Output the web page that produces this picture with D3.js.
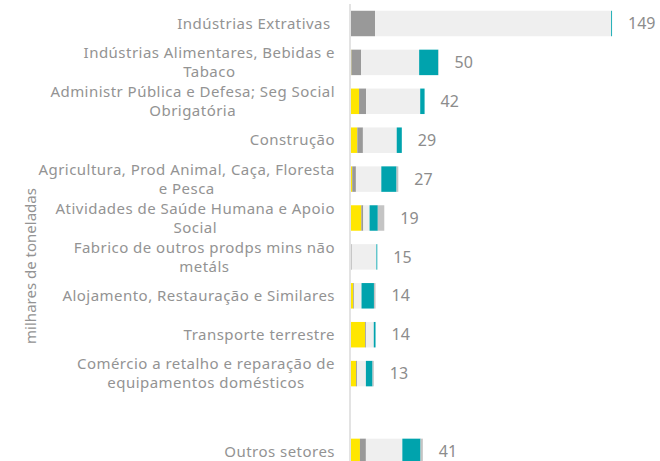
<!DOCTYPE html>
<html><head><meta charset="utf-8">
<script src="https://cdn.jsdelivr.net/npm/d3@7"></script>
<style>
html,body{margin:0;padding:0;background:#fff;}
svg{display:block;font-family:"Noto Sans",sans-serif;}
</style></head>
<body>
<svg id="chart" width="660" height="461"></svg>
<script>
// ---- data ----
const categories = [
  "Indústrias Extrativas ",
  "Indústrias Alimentares, Bebidas e\nTabaco",
  "Administr Pública e Defesa; Seg Social\nObrigatória",
  "Construção",
  "Agricultura, Prod Animal, Caça, Floresta\ne Pesca",
  "Atividades de Saúde Humana e Apoio\nSocial",
  "Fabrico de outros prodps mins não\nmetáls",
  "Alojamento, Restauração e Similares",
  "Transporte terrestre",
  "Comércio a retalho e reparação de\nequipamentos domésticos",
  "",
  "Outros setores"
];
const seriesNames = ["Série 1", "Série 2", "Série 3", "Série 4", "Série 5"];
const serie1 = [0,   0.2, 4.6, 3.6, 0.7, 5.9, 0,    1.3, 8.0, 2.9, 0, 5.1];
const serie2 = [13.7,5.6, 4.0, 3.2, 2.1, 1.1, 0.4,  0.4, 0.5, 0.5, 0, 3.4];
const serie3 = [134.8,33.1,30.9,19.3,14.5,3.6,14.1, 4.3, 4.5, 5.1, 0, 20.8];
const serie4 = [0.5, 10.9,2.5, 2.9, 8.7, 4.7, 0.5,  7.1, 1.0, 3.8, 0, 10.4];
const serie5 = [0,   0.2, 0,   0,   1.0, 3.7, 0,    0.9, 0,   0.7, 0, 1.3];
const totalLabels = ["149","50","42","29","27","19","15","14","14","13","","41"];
const axisTitle = "milhares de toneladas";
const colors = ["#ffe600", "#999999", "#efefef", "#00a3ad", "#c4c4c4"];

// ---- build ----
const allSeries = [serie1, serie2, serie3, serie4, serie5];
const rows = categories.map((c, i) => {
  const r = {cat: c, idx: i};
  seriesNames.forEach((s, k) => r[s] = allSeries[k][i]);
  return r;
});
const stack = d3.stack().keys(seriesNames)(rows);

const svg = d3.select("#chart");
const x = d3.scaleLinear().domain([0, 150]).range([351, 351 + 150 * 1.752]);
const y = d3.scaleBand().domain(d3.range(categories.length))
  .range([4.05, 4.05 + 12 * 38.9]).paddingInner(0.345).paddingOuter(0.1725);

// axis line
svg.append("line")
  .attr("x1", x(0) - 1).attr("x2", x(0) - 1)
  .attr("y1", 4).attr("y2", 470)
  .attr("stroke", "#e3e3e3").attr("stroke-width", 2);

// bars
svg.append("g").selectAll("g").data(stack).join("g")
  .attr("fill", (d, k) => colors[k])
  .selectAll("rect").data(d => d).join("rect")
  .attr("x", d => x(d[0]))
  .attr("width", d => Math.max(0, x(d[1]) - x(d[0])))
  .attr("y", (d, i) => y(i))
  .attr("height", y.bandwidth());

// total labels
svg.append("g").selectAll("text").data(rows).join("text")
  .attr("x", d => x(d3.sum(seriesNames, s => d[s])) + 16)
  .attr("y", d => y(d.idx) + y.bandwidth() / 2)
  .attr("dy", "0.35em")
  .attr("fill", "#8c8c8c")
  .attr("font-size", 16)
  .text(d => totalLabels[d.idx]);

// category labels
const lineH = 19;
const labelRight = 335;
rows.forEach(d => {
  const lines = d.cat.split("\n");
  if (!d.cat) return;
  const g = svg.append("g");
  const cy = y(d.idx) + y.bandwidth() / 2;
  const texts = lines.map((l, j) => g.append("text")
    .attr("font-size", 15)
    .attr("letter-spacing", 0.47)
    .attr("fill", "#939393")
    .style("white-space", "pre")
    .attr("text-anchor", "middle")
    .attr("y", cy + (j - (lines.length - 1) / 2) * lineH)
    .attr("dy", "0.35em")
    .text(l));
  const maxW = d3.max(texts, t => t.node().getComputedTextLength());
  texts.forEach(t => t.attr("x", labelRight - maxW / 2));
});

// axis title
svg.append("text")
  .attr("transform", "translate(31,266) rotate(-90)")
  .attr("text-anchor", "middle")
  .attr("dy", "0.35em")
  .attr("font-size", 15)
  .attr("fill", "#939393")
  .text(axisTitle);
</script>
</body></html>
